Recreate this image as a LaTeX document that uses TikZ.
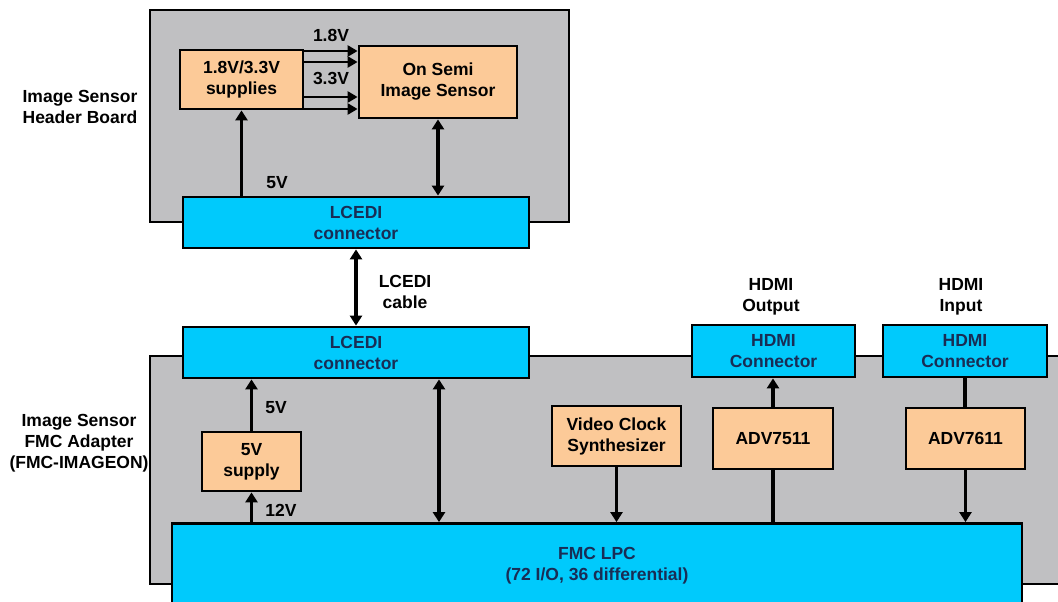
\documentclass[tikz,border=0pt]{standalone}
\usepackage{fontspec}
\setmainfont{Liberation Sans}
\usetikzlibrary{arrows.meta}
\definecolor{board}{RGB}{192,192,194}
\definecolor{conn}{RGB}{0,202,252}
\definecolor{chip}{RGB}{252,202,152}
\definecolor{navy}{RGB}{25,45,85}
\tikzset{
  base/.style={draw=black, line width=2.8pt, rectangle, inner sep=0pt, align=center,
    font=\fontsize{17.5}{21}\selectfont\bfseries},
  boardbox/.style={base, line width=2.2pt, fill=board},
  connbox/.style={base, fill=conn, text=navy},
  chipbox/.style={base, fill=chip},
  lbl/.style={align=center, font=\fontsize{17.5}{21}\selectfont\bfseries, inner sep=0pt},
  arr/.style={line width=3.4pt, -{Triangle[length=10pt,width=12pt]}},
  harr/.style={line width=2.8pt, -{Triangle[length=10pt,width=11pt]}},
  darr/.style={line width=3.4pt, {Triangle[length=10pt,width=12pt]}-{Triangle[length=10pt,width=12pt]}},
  plain/.style={line width=3.4pt}
}
\begin{document}
\begin{tikzpicture}[x=1pt,y=-1pt]
\useasboundingbox (0,0) rectangle (1058,602);
\clip (0,0) rectangle (1058,602);
% boards
\node[boardbox, minimum width=419pt, minimum height=212pt] (topboard) at (359.5,116) {};
\node[boardbox, minimum width=914pt, minimum height=228pt] (botboard) at (607,470) {};
% top board contents
\node[chipbox, minimum width=123pt, minimum height=59pt] (supplies) at (241.5,79.5) {1.8V/3.3V\\supplies};
\node[chipbox, minimum width=158pt, minimum height=72pt] (onsemi) at (438,82) {On Semi\\Image Sensor};
\node[connbox, minimum width=346pt, minimum height=51pt] (lcediT) at (356,222.5) {LCEDI\\connector};
% bottom board contents
\node[connbox, minimum width=346pt, minimum height=51pt] (lcediB) at (356,352.5) {LCEDI\\connector};
\node[chipbox, minimum width=99pt, minimum height=59pt] (sup5) at (251.5,461.5) {5V\\supply};
\node[chipbox, minimum width=129pt, minimum height=60pt] (vclk) at (616.5,436) {Video Clock\\Synthesizer};
\node[chipbox, minimum width=120pt, minimum height=61pt] (adv7511) at (773,438.5) {ADV7511};
\node[chipbox, minimum width=119pt, minimum height=61pt] (adv7611) at (965.5,438.5) {ADV7611};
\node[connbox, minimum width=163pt, minimum height=52pt] (hdmiO) at (773.5,351) {HDMI\\Connector};
\node[connbox, minimum width=164pt, minimum height=52pt] (hdmiI) at (965,351) {HDMI\\Connector};
\node[connbox, minimum width=850pt, minimum height=85pt] (fmc) at (597,566) {FMC LPC\\(72 I/O, 36 differential)};
% labels
\node[lbl] (l18) at (331,35) {1.8V};
\node[lbl] (l33) at (331,78) {3.3V};
\node[lbl] (l5a) at (277,183) {5V};
\node[lbl] (lcab) at (405,292) {LCEDI\\cable};
\node[lbl] (lho) at (771,297) {HDMI\\Output};
\node[lbl] (lhi) at (961,297) {HDMI\\Input};
\node[lbl] (l5b) at (276,408) {5V};
\node[lbl] (l12) at (281,510) {12V};
\node[lbl] (lhead) at (80,107) {Image Sensor\\Header Board};
\node[lbl] (lfmc) at (79,443) {Image Sensor\\FMC Adapter\\(FMC-IMAGEON)};
% connectors top
\foreach \d in {28.5,17.5,-17.5,-29.5}{
  \draw[harr] ([yshift=\d pt]supplies.east) -- ([yshift=\d pt]supplies.east -| onsemi.west);
}
\draw[arr] (supplies.south |- lcediT.north) -- (supplies.south);
\draw[darr] (onsemi.south) -- (onsemi.south |- lcediT.north);
\draw[darr] (lcediT.south) -- (lcediB.north);
% connectors bottom
\draw[arr] (sup5.north) -- (sup5.north |- lcediB.south);
\draw[arr] (sup5.south |- fmc.north) -- (sup5.south);
\draw[darr] ([xshift=83pt]lcediB.south) -- ([xshift=83pt]lcediB.south |- fmc.north);
\draw[arr] (vclk.south) -- (vclk.south |- fmc.north);
\draw[plain] (adv7511.south) -- (adv7511.south |- fmc.north);
\draw[arr] (adv7511.north) -- (adv7511.north |- hdmiO.south);
\draw[plain] (hdmiI.south) -- (hdmiI.south |- adv7611.north);
\draw[arr] (adv7611.south) -- (adv7611.south |- fmc.north);
\end{tikzpicture}
\end{document}
